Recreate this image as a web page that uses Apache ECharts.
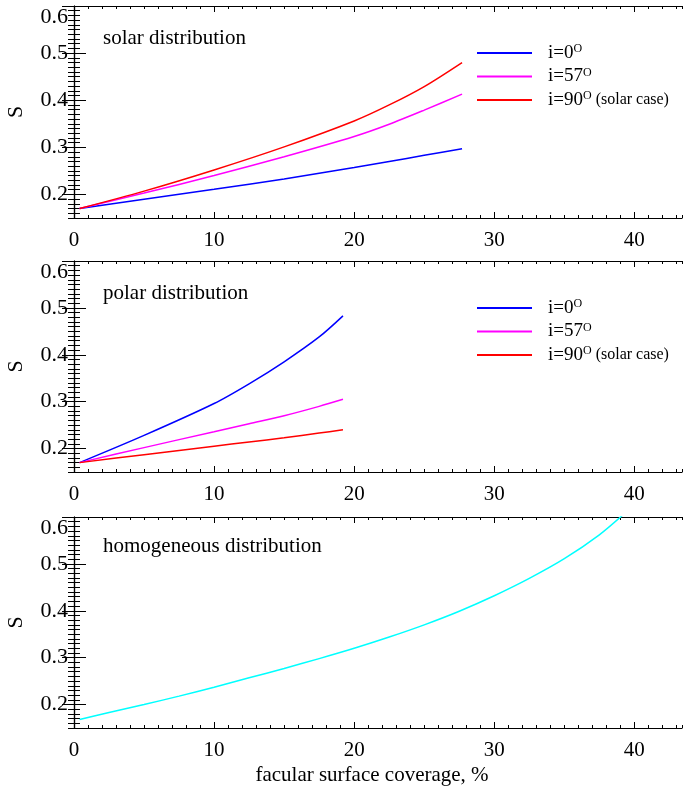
<!DOCTYPE html>
<html><head><meta charset="utf-8">
<script src="https://cdn.jsdelivr.net/npm/echarts@6/dist/echarts.min.js"></script>
<style>html,body{margin:0;padding:0;background:#fff}#c{width:683px;height:790px}</style>
</head><body><div id="c"></div>
<script>
// ---- data ----
const xTicks = [0, 10, 20, 30, 40];
const yTicks = [0.2, 0.3, 0.4, 0.5, 0.6];
const seriesNames = ['i=0', 'i=57', 'i=90'];
const panelLabels = ['solar distribution', 'polar distribution', 'homogeneous distribution'];
const xTitle = 'facular surface coverage, %';
const yTitle = 'S';

const xSolar = [0.4, 5, 10, 15, 20, 22.5, 25, 27.7];
const solarI0  = [0.170, 0.190, 0.211, 0.233, 0.257, 0.270, 0.283, 0.297];
const solarI57 = [0.170, 0.203, 0.240, 0.280, 0.323, 0.349, 0.379, 0.413];
const solarI90 = [0.170, 0.207, 0.252, 0.301, 0.356, 0.390, 0.429, 0.480];

const xPolar = [0.4, 5, 10, 12.5, 15, 17.5, 19.2];
const polarI0  = [0.170, 0.228, 0.296, 0.338, 0.385, 0.438, 0.483];
const polarI57 = [0.170, 0.202, 0.236, 0.253, 0.270, 0.290, 0.305];
const polarI90 = [0.170, 0.187, 0.205, 0.214, 0.223, 0.233, 0.240];

const xHomog = [0.4, 2.5, 5, 7.5, 10, 12.5, 15, 17.5, 20, 22.5, 25, 27.5, 30, 32.5, 35, 37.5, 39.2];
const homog  = [0.168, 0.183, 0.200, 0.218, 0.237, 0.257, 0.277, 0.298, 0.320, 0.344, 0.370, 0.399, 0.432, 0.469, 0.511, 0.562, 0.605];

const colors = ['#0000ff', '#ff00ff', '#ff0000'];
const cyan = '#00ffff';

// ---- layout ----
const FONT = '"Liberation Serif", "DejaVu Serif", serif';
const grids = [
  {left: 74, right: 1, top: 6, height: 212, containLabel: false, outerBoundsMode: 'none'},
  {left: 74, right: 1, top: 261, height: 211, containLabel: false, outerBoundsMode: 'none'},
  {left: 74, right: 1, top: 517, height: 211, containLabel: false, outerBoundsMode: 'none'}
];
const XMIN = 0, XMAX = 43.4, YMIN = 0.15, YMAX = 0.6;

const xAxes = [], yAxes = [];
const axisLine = {show: true, lineStyle: {color: '#000', width: 1.2}};
grids.forEach((g, i) => {
  const base = {type: 'value', gridIndex: i, min: XMIN, max: XMAX, splitLine: {show: false}};
  xAxes.push(Object.assign({}, base, {
    position: 'bottom', interval: 1, axisLine,
    axisTick: {inside: true, length: 3, lineStyle: {color: '#000'}},
    axisLabel: {margin: 12, color: '#000', fontFamily: FONT, fontSize: 21,
      alignMinLabel: 'center', alignMaxLabel: 'center', hideOverlap: false,
      formatter: v => (Math.abs(Math.round(v) - v) < 1e-6 && Math.round(v) % 10 === 0) ? String(Math.round(v)) : ''},
    name: i === 2 ? xTitle : '', nameLocation: 'middle', nameGap: 37,
    nameTextStyle: {color: '#000', fontFamily: FONT, fontSize: 21, padding: [0, 12, 0, 0]}
  }));
  xAxes.push(Object.assign({}, base, {
    position: 'bottom', axisLine: {show: false},
    axisTick: {inside: true, length: 6, customValues: xTicks, lineStyle: {color: '#000'}},
    axisLabel: {show: false}
  }));
  xAxes.push(Object.assign({}, base, {
    position: 'top', interval: 1, axisLine,
    axisTick: {inside: true, length: 3, lineStyle: {color: '#000'}},
    axisLabel: {show: false}
  }));
  xAxes.push(Object.assign({}, base, {
    position: 'top', axisLine: {show: false},
    axisTick: {inside: true, length: 6, customValues: xTicks, lineStyle: {color: '#000'}},
    axisLabel: {show: false}
  }));
  const ybase = {type: 'value', gridIndex: i, min: YMIN, max: YMAX, splitLine: {show: false}};
  yAxes.push(Object.assign({}, ybase, {
    position: 'left', interval: 0.01, axisLine,
    axisTick: {inside: true, length: 6, lineStyle: {color: '#000'}},
    axisLabel: {margin: 6, color: '#000', fontFamily: FONT, fontSize: 22,
      verticalAlignMaxLabel: 'top', verticalAlignMinLabel: 'middle',
      formatter: v => { const k = Math.round(v * 100); return (Math.abs(k - v * 100) < 1e-4 && k % 10 === 0) ? (k / 100).toFixed(1) : ''; }},
    name: yTitle, nameLocation: 'middle', nameGap: 47, nameRotate: 90,
    nameTextStyle: {color: '#000', fontFamily: FONT, fontSize: 22}
  }));
  yAxes.push(Object.assign({}, ybase, {
    position: 'left', axisLine: {show: false},
    axisTick: {inside: true, length: 12, customValues: yTicks, lineStyle: {color: '#000'}},
    axisLabel: {show: false}
  }));
  yAxes.push(Object.assign({}, ybase, {
    position: 'right', interval: 0.01, axisLine,
    axisTick: {inside: true, length: 6, lineStyle: {color: '#000'}},
    axisLabel: {show: false}
  }));
  yAxes.push(Object.assign({}, ybase, {
    position: 'right', axisLine: {show: false},
    axisTick: {inside: true, length: 12, customValues: yTicks, lineStyle: {color: '#000'}},
    axisLabel: {show: false}
  }));
});

function zip(xs, ys) { return xs.map((x, k) => [x, ys[k]]); }
function line(name, color, panel, xs, ys) {
  return {
    type: 'line', name, xAxisIndex: panel * 4, yAxisIndex: panel * 4,
    data: zip(xs, ys), showSymbol: false, symbol: 'none', smooth: 0.3,
    itemStyle: {color}, lineStyle: {color, width: 1.5}, clip: true
  };
}
const series = [
  line(seriesNames[0], colors[0], 0, xSolar, solarI0),
  line(seriesNames[1], colors[1], 0, xSolar, solarI57),
  line(seriesNames[2], colors[2], 0, xSolar, solarI90),
  line(seriesNames[0], colors[0], 1, xPolar, polarI0),
  line(seriesNames[1], colors[1], 1, xPolar, polarI57),
  line(seriesNames[2], colors[2], 1, xPolar, polarI90),
  line('homogeneous', cyan, 2, xHomog, homog)
];

const legendRich = {
  t: {fontFamily: FONT, fontSize: 19, color: '#000', lineHeight: 20},
  s: {fontFamily: FONT, fontSize: 12, color: '#000', verticalAlign: 'top', lineHeight: 20, padding: [0, 0, 9, 0]},
  p: {fontFamily: FONT, fontSize: 16, color: '#000', lineHeight: 20}
};
const legends = [];
[53, 308].forEach(y0 => {
  seriesNames.forEach((nm, k) => {
    legends.push({
      data: [nm], orient: 'vertical', left: 477, top: y0 + k * 23.5 - 10,
      itemWidth: 55, itemHeight: 2, icon: 'rect', selectedMode: false, padding: 0,
      textStyle: {padding: [0, 0, 0, 11], rich: legendRich},
      formatter: n => n === 'i=90' ? '{t|' + n + '}{s|O}{p| (solar case)}' : '{t|' + n + '}{s|O}'
    });
  });
});

const labelTops = [40, 295, 548];
const graphics = panelLabels.map((t, i) => ({
  type: 'text', left: 103, top: labelTops[i] - 12,
  style: {text: t, fill: '#000', font: '21px ' + FONT}
}));

const chart = echarts.init(document.getElementById('c'), null, {renderer: 'canvas'});
chart.setOption({
  animation: false,
  backgroundColor: '#fff',
  grid: grids,
  xAxis: xAxes,
  yAxis: yAxes,
  legend: legends,
  graphic: graphics,
  series
});
</script></body></html>
